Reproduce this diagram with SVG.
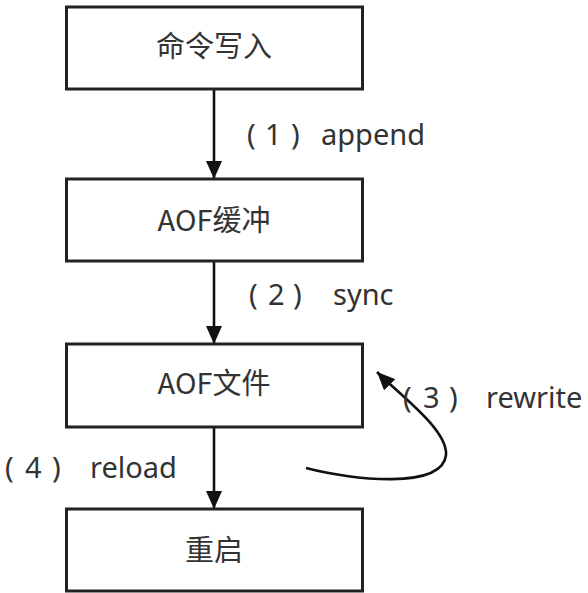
<svg xmlns="http://www.w3.org/2000/svg" width="588" height="593" viewBox="0 0 588 593">
<defs>
<style>
.box{fill:#fff;stroke:#222;stroke-width:3}
.node{font-family:"Noto Sans CJK SC","Noto Sans",sans-serif;font-size:29px;fill:#333;text-anchor:middle}
.lbl{font-family:"Noto Sans","Noto Sans CJK SC",sans-serif;font-size:29px;fill:#333}
.conn{fill:none;stroke:#111;stroke-width:2.6}
</style>
<marker id="ah" viewBox="0 0 18 16" refX="18" refY="8" markerWidth="18" markerHeight="16" markerUnits="userSpaceOnUse" orient="auto">
<path d="M0,0 L18,8 L0,16 Z" fill="#111"/>
</marker>
</defs>
<rect width="588" height="593" fill="#fff"/>
<g id="connectors">
<line class="conn" x1="214" y1="89" x2="214" y2="179" marker-end="url(#ah)"/>
<line class="conn" x1="214" y1="261" x2="214" y2="344" marker-end="url(#ah)"/>
<line class="conn" x1="214" y1="427" x2="214" y2="509" marker-end="url(#ah)"/>
<path class="conn" d="M306,468 C352,480 442,490 446,455 C448,430 400,395 377,372" marker-end="url(#ah)"/>
<text class="lbl"><tspan x="247" y="145">(</tspan><tspan x="265" y="145">1</tspan><tspan x="291" y="145">)</tspan><tspan x="321" y="145">append</tspan></text>
<text class="lbl"><tspan x="249" y="305">(</tspan><tspan x="268" y="305">2</tspan><tspan x="293" y="305">)</tspan><tspan x="333" y="305">sync</tspan></text>
<text class="lbl"><tspan x="403" y="408">(</tspan><tspan x="423" y="408">3</tspan><tspan x="449" y="408">)</tspan><tspan x="486" y="408">rewrite</tspan></text>
<text class="lbl"><tspan x="5" y="478">(</tspan><tspan x="25" y="478">4</tspan><tspan x="52" y="478">)</tspan><tspan x="90" y="478">reload</tspan></text>
</g>
<g id="node1">
<rect class="box" x="66.5" y="7" width="296" height="82"/>
<text class="node" x="214" y="57">命令写入</text>
</g>
<g id="node2">
<rect class="box" x="66.5" y="179" width="296" height="82"/>
<text class="node" x="214" y="231">AOF缓冲</text>
</g>
<g id="node3">
<rect class="box" x="66.5" y="344" width="296" height="83"/>
<text class="node" x="214" y="394">AOF文件</text>
</g>
<g id="node4">
<rect class="box" x="66.5" y="509" width="296" height="82"/>
<text class="node" x="214" y="561">重启</text>
</g>
</svg>
